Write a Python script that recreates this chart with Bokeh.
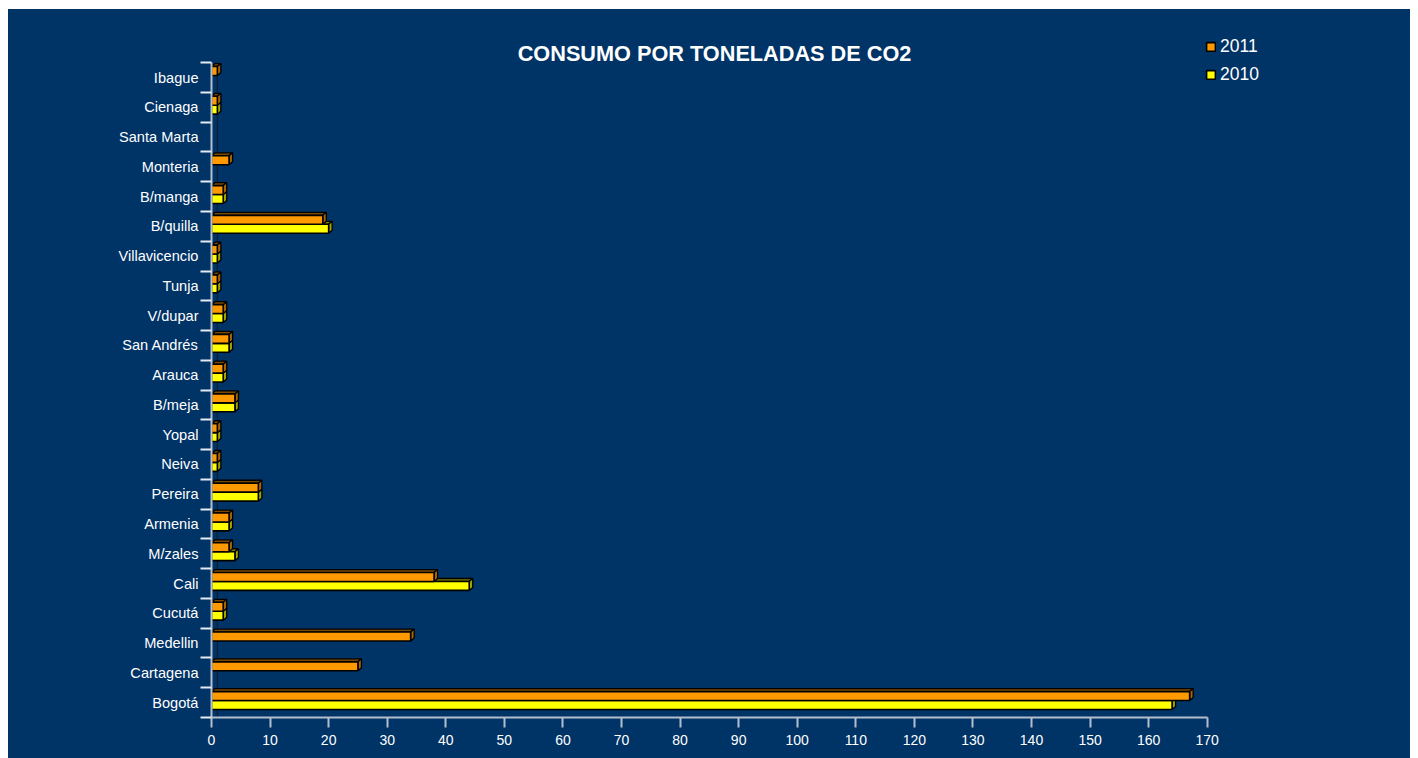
from bokeh.plotting import figure
from bokeh.models import (ColumnDataSource, FixedTicker, Legend,
                          LegendItem, Range1d, Label)
from bokeh.embed import file_html
from bokeh.resources import INLINE

# ---- data (bottom to top) ----
cities = ["Bogotá", "Cartagena", "Medellin", "Cucutá", "Cali", "M/zales", "Armenia",
          "Pereira", "Neiva", "Yopal", "B/meja", "Arauca", "San Andrés", "V/dupar",
          "Tunja", "Villavicencio", "B/quilla", "B/manga", "Monteria", "Santa Marta",
          "Cienaga", "Ibague"]
v2011 = [167, 25, 34, 2, 38, 3, 3, 8, 1, 1, 4, 2, 3, 2, 1, 1, 19, 2, 3, 0, 1, 1]
v2010 = [164, 0, 0, 2, 44, 4, 3, 8, 1, 1, 4, 2, 3, 2, 1, 1, 20, 2, 0, 0, 1, 0]
x_ticks = list(range(0, 171, 10))
x_max = 170
series = ["2011", "2010"]
title = "CONSUMO POR TONELADAS DE CO2"

BG = "#003366"
FONT = "Liberation Sans"

# geometry of the pseudo-3D bars (in data units)
H = 0.30          # bar thickness
OFF = {"2011": 0.22, "2010": -0.08}
DX, DY = 0.6, 0.10

n = len(cities)
# frame is extended above / right of the axes so the title and legend live inside it
p = figure(width=1402, height=749, output_backend="svg", toolbar_location=None,
           x_range=Range1d(0, 182), y_range=Range1d(-0.5, 22.58),
           background_fill_color=BG, border_fill_color=BG, outline_line_color=None,
           min_border_left=203, min_border_right=133, min_border_top=21,
           min_border_bottom=41)
p.margin = (9, 8, 0, 8)
p.styles = {"background-color": BG}

p.xgrid.visible = False
p.ygrid.visible = False

p.add_layout(Label(x=503, y=664, x_units="screen", y_units="screen", text=title,
                   text_align="center", text_baseline="alphabetic",
                   text_color="white", text_font=FONT, text_font_size="21.7px",
                   text_font_style="bold"))

# back wall line
p.segment(x0=[1.0], y0=[-0.5], x1=[1.0], y1=[n - 0.5], line_color="#0b2038",
          line_width=1.2)

colors = {"2011": ("#FF9900", "#7a4900", "#a86400"),
          "2010": ("#FFFF00", "#7a7a00", "#a3a300")}

def build(vals, key):
    ys, vs = [], []
    for i, v in enumerate(vals):
        if v > 0:
            ys.append(i + OFF[key])
            vs.append(v)
    top_x, top_y, side_x, side_y = [], [], [], []
    for y, v in zip(ys, vs):
        t = y + H / 2
        b = y - H / 2
        top_x.append([0, DX, v + DX, v])
        top_y.append([t, t + DY, t + DY, t])
        side_x.append([v, v, v + DX, v + DX])
        side_y.append([b, t, t + DY, b + DY])
    return (ColumnDataSource(dict(y=ys, right=vs)),
            ColumnDataSource(dict(xs=top_x, ys=top_y)),
            ColumnDataSource(dict(xs=side_x, ys=side_y)))

srcs = {"2011": build(v2011, "2011"), "2010": build(v2010, "2010")}

for key in ["2010", "2011"]:
    front, top, side = srcs[key]
    p.patches("xs", "ys", source=top, fill_color=colors[key][1],
              line_color="black", line_width=1.3)
    p.patches("xs", "ys", source=side, fill_color=colors[key][2],
              line_color="black", line_width=1.3)

rend = {}
for key in ["2010", "2011"]:
    front, top, side = srcs[key]
    rend[key] = p.hbar(y="y", left=0, right="right", height=H, source=front,
                       fill_color=colors[key][0], line_color="black", line_width=1.6)

legend = Legend(items=[LegendItem(label=s, renderers=[rend[s]]) for s in series],
                location=(994, 632), background_fill_alpha=0, border_line_color=None,
                label_text_color="white", label_text_font=FONT,
                label_text_font_size="17.5px", glyph_width=11, glyph_height=11,
                label_height=20, spacing=7, padding=0, margin=0, label_standoff=4)
p.add_layout(legend, "center")

AX = "#b4bfcd"
# x axis
xa = p.xaxis[0]
xa.bounds = (0, x_max)
xa.ticker = FixedTicker(ticks=x_ticks)
xa.axis_line_color = AX
xa.axis_line_width = 2
xa.major_tick_line_color = AX
xa.major_tick_line_width = 2
xa.major_tick_out = 10
xa.major_tick_in = 0
xa.minor_tick_line_color = None
xa.major_label_text_color = "white"
xa.major_label_text_font = FONT
xa.major_label_text_font_size = "14px"
xa.major_label_standoff = 7

# y axis
ya = p.yaxis[0]
ya.bounds = (-0.5, n - 0.5)
ya.ticker = FixedTicker(ticks=list(range(n)),
                        minor_ticks=[i - 0.5 for i in range(n + 1)])
ya.major_label_overrides = {i: c for i, c in enumerate(cities)}
ya.axis_line_color = AX
ya.axis_line_width = 2
ya.major_tick_line_color = None
ya.major_tick_out = 0
ya.major_tick_in = 0
ya.minor_tick_line_color = "#e6ebf2"
ya.minor_tick_line_width = 2
ya.minor_tick_out = 11
ya.minor_tick_in = 0
ya.major_label_text_color = "white"
ya.major_label_text_font = FONT
ya.major_label_text_font_size = "14.6px"
ya.major_label_standoff = 2

open("out.html", "w").write(file_html(p, INLINE))
